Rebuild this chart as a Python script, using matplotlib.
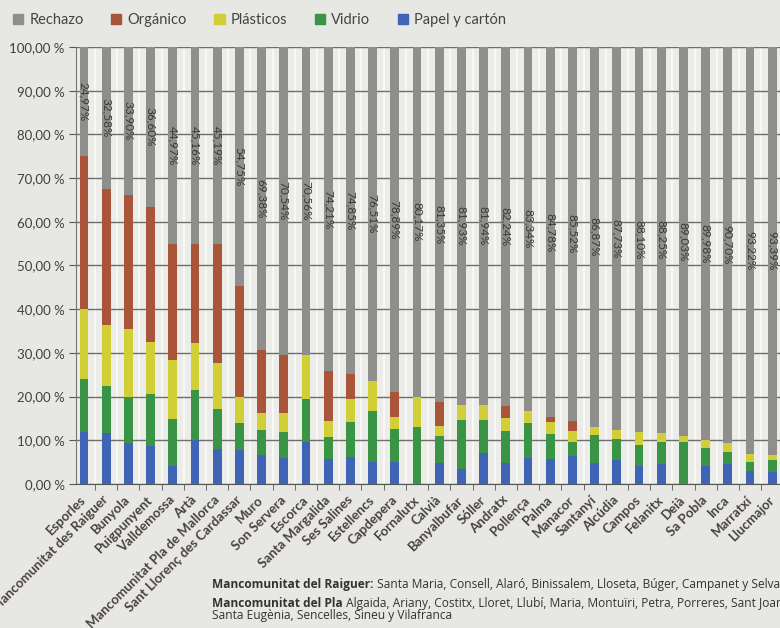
import matplotlib
matplotlib.use('Agg')
import matplotlib.pyplot as plt
import numpy as np
from matplotlib.patches import Patch

plt.rcParams['font.family'] = ['Lato', 'DejaVu Sans']

municipios = ['Esporles', 'Mancomunitat des Raiguer', 'Bunyola', 'Puigpunyent',
              'Valldemossa', 'Artà', 'Mancomunitat Pla de Mallorca',
              'Sant Llorenç des Cardassar', 'Muro', 'Son Servera', 'Escorca',
              'Santa Margalida', 'Ses Salines', 'Estellencs', 'Capdepera',
              'Fornalutx', 'Calvià', 'Banyalbufar', 'Sóller', 'Andratx',
              'Pollença', 'Palma', 'Manacor', 'Santanyí', 'Alcúdia', 'Campos',
              'Felanitx', 'Deià', 'Sa Pobla', 'Inca', 'Marratxí', 'Llucmajor']

papel = [11.9, 11.6, 9.4, 8.8, 4.1, 10.1, 7.9, 7.8, 6.7, 6.0, 9.6,
         5.7, 6.1, 5.0, 5.0, 0.0, 4.9, 3.4, 7.0, 4.8, 5.9,
         5.8, 6.4, 4.8, 5.4, 4.1, 4.6, 0.0, 4.1, 4.5, 2.9, 2.7]
vidrio = [12.2, 10.9, 10.4, 11.9, 10.8, 11.5, 9.2, 6.1, 5.6, 6.0, 9.9,
          5.0, 8.1, 11.8, 7.6, 13.0, 6.1, 11.3, 7.7, 7.4, 8.0,
          5.7, 3.3, 6.4, 4.8, 4.8, 5.0, 9.6, 4.1, 2.8, 2.2, 2.8]
plasticos = [15.9, 13.9, 15.6, 11.7, 13.5, 10.6, 10.5, 6.0, 3.9, 4.2, 9.94,
             3.8, 5.3, 6.69, 2.7, 6.83, 2.2, 3.37, 3.36, 2.9, 2.76,
             2.6, 2.5, 1.93, 2.07, 3.0, 2.15, 1.37, 1.82, 2.0, 1.68, 1.11]
organico = [35.03, 31.02, 30.70, 31.00, 26.63, 22.64, 27.21, 25.35, 14.42, 13.26, 0.0,
            11.29, 5.65, 0.0, 5.81, 0.0, 5.45, 0.0, 0.0, 2.66, 0.0,
            1.12, 2.28, 0.0, 0.0, 0.0, 0.0, 0.0, 0.0, 0.0, 0.0, 0.0]
rechazo = [24.97, 32.58, 33.90, 36.60, 44.97, 45.16, 45.19, 54.75, 69.38, 70.54, 70.56,
           74.21, 74.85, 76.51, 78.89, 80.17, 81.35, 81.93, 81.94, 82.24, 83.34,
           84.78, 85.52, 86.87, 87.73, 88.10, 88.25, 89.03, 89.98, 90.70, 93.22, 93.39]

series = [('Papel y cartón', papel, '#3f63b5'),
          ('Vidrio', vidrio, '#3a9445'),
          ('Plásticos', plasticos, '#d2cf36'),
          ('Orgánico', organico, '#a9553a'),
          ('Rechazo', rechazo, '#8e8e8c')]

fig = plt.figure(figsize=(7.8, 6.28), dpi=100, facecolor='#e7e7e4')
ax = fig.add_axes([0.0974, 0.2293, 0.9026, 0.6959])
ax.set_facecolor('#ecece9')

x = np.arange(len(municipios))
bottom = np.zeros(len(municipios))
for name, vals, color in series:
    vals = np.array(vals)
    ax.bar(x, vals, width=0.4, bottom=bottom, color=color, zorder=3, label=name)
    if name == 'Rechazo':
        for xi, b, v in zip(x, bottom, vals):
            ax.text(xi, b + v / 2, '{:.2f}%'.format(v).replace('.', ','),
                    rotation=-90, ha='center', va='center', fontsize=8.5,
                    color='#383838', zorder=4)
    bottom += vals

ax.set_xlim(-0.36, 31.35)
ax.set_ylim(0, 100)
ax.set_yticks(np.arange(0, 101, 10))
ax.set_yticklabels(['{:.2f} %'.format(v).replace('.', ',') for v in np.arange(0, 101, 10)],
                   fontsize=9.5, color='#404040')
ax.grid(axis='y', color='#6e6e6e', linewidth=1, zorder=1)
ax.set_xticks(x)
ax.set_xticklabels(municipios, rotation=45, ha='right', va='center', rotation_mode='anchor',
                   fontsize=9.5, fontweight='bold', color='#4a423c')
ax.set_xticks(x[:-1] + 0.5, minor=True)
ax.grid(axis='x', which='minor', color='#f8f8f6', linewidth=1.5, zorder=1)
ax.tick_params(axis='x', which='major', length=0, pad=10)
ax.tick_params(axis='x', which='minor', length=4, color='#555555')
ax.tick_params(axis='y', length=5, color='#555555', pad=3)
for s in ['top', 'right']:
    ax.spines[s].set_visible(False)
ax.spines['left'].set_color('#777777')
ax.spines['bottom'].set_color('#555555')

handles = [Patch(color=c, label=n) for n, _, c in reversed(series)]
fig.legend(handles=handles, loc='upper left', bbox_to_anchor=(0.0, 1.0), ncol=5,
           frameon=False, fontsize=10.5, handlelength=0.7, handleheight=0.7,
           handletextpad=0.4, columnspacing=1.9, labelcolor='#444444')

note_font = ['Open Sans', 'DejaVu Sans']
notes = [('Mancomunitat del Raiguer:', ' Santa Maria, Consell, Alaró, Binissalem, Lloseta, Búger, Campanet y Selva', 0.0637),
         ('Mancomunitat del Pla', ' Algaida, Ariany, Costitx, Lloret, Llubí, Maria, Montuïri, Petra, Porreres, Sant Joan,', 0.0334)]
for bold, rest, yy in notes:
    t = fig.text(0.272, yy, bold, fontsize=8.6, fontweight='bold', color='#333333', family=note_font)
    ax.annotate(rest, xy=(1, 0), xycoords=t, va='bottom', ha='left', fontsize=8.6,
                color='#333333', family=note_font, annotation_clip=False)
fig.text(0.272, 0.0151, 'Santa Eugènia, Sencelles, Sineu y Vilafranca', fontsize=8.6,
         color='#333333', family=note_font)

fig.savefig('out.png', dpi=100, facecolor=fig.get_facecolor())
